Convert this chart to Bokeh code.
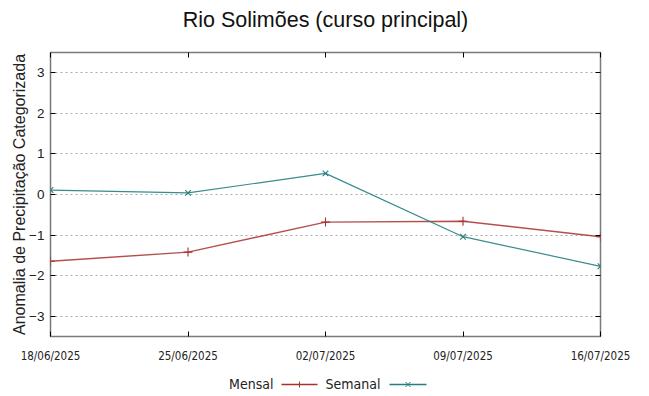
from datetime import datetime
from bokeh.plotting import figure
from bokeh.layouts import column
from bokeh.models import (LinearAxis, DatetimeAxis, FixedTicker, DatetimeTickFormatter,
                          Range1d, Label, Arrow, ColumnDataSource)
from bokeh.embed import file_html
from bokeh.resources import INLINE

# ---- data ----
dates = ["2025-06-18", "2025-06-25", "2025-07-02", "2025-07-09", "2025-07-16"]
mensal = [-1.645, -1.42, -0.68, -0.66, -1.04]
semanal = [0.11, 0.04, 0.52, -1.04, -1.77]
yticks = [-3, -2, -1, 0, 1, 2, 3]
title_text = "Rio Solimões (curso principal)"
ylabel = "Anomalia de Precipitação Categorizada"
series_names = ["Mensal", "Semanal"]

xs = [datetime.strptime(d, "%Y-%m-%d") for d in dates]
xms = [x.timestamp() * 1000 for x in xs]

RED = "#a8302f"
TEAL = "#23807f"
SANS = "'Liberation Sans', Arial, sans-serif"
NARROW = "'Liberation Sans Narrow', 'DejaVu Sans Condensed', sans-serif"
W = 649
FRAME_W = 550


def strip(height):
    f = figure(width=W, height=height, output_backend="svg", toolbar_location=None,
               x_range=Range1d(0, 1), y_range=Range1d(0, 1), min_border=0,
               min_border_left=50, min_border_right=49,
               outline_line_color=None)
    f.axis.visible = False
    f.grid.visible = False
    return f


# ---- title strip ----
tf = strip(40)
tf.add_layout(Label(x=FRAME_W / 2, y=21, x_units="screen", y_units="screen",
                    text=title_text, text_align="center", text_baseline="alphabetic",
                    text_font=SANS, text_font_size="21.5px", text_color="#111111"))

# ---- main plot ----
p = figure(width=W, height=328, x_axis_type="datetime", output_backend="svg",
           toolbar_location=None, x_range=Range1d(xms[0], xms[-1]),
           y_range=Range1d(-3.5, 3.5),
           min_border_left=50, min_border_right=49, min_border_top=12,
           min_border_bottom=32)

p.outline_line_color = "#7a7a7a"
p.outline_line_width = 1.5

src = ColumnDataSource(dict(x=xms, m=mensal, s=semanal))
p.line("x", "m", source=src, line_color=RED, line_width=1.4, line_alpha=0.85)
p.scatter("x", "m", source=src, marker="cross", size=9, line_color=RED, line_width=1.1)
p.line("x", "s", source=src, line_color=TEAL, line_width=1.2, line_alpha=0.9)
p.scatter("x", "s", source=src, marker="x", size=8, line_color=TEAL, line_width=1.1)


def style_axis(ax, labels=True, font=SANS, size="13.5px"):
    ax.axis_line_color = None
    ax.major_tick_in = 5
    ax.major_tick_out = 0
    ax.minor_tick_line_color = None
    ax.major_tick_line_color = "black"
    if labels:
        ax.major_label_text_font = font
        ax.major_label_text_font_size = size
        ax.major_label_text_color = "#222222"
    else:
        ax.major_label_text_font_size = "0px"
        ax.major_label_text_color = None
        ax.major_label_standoff = 0
        ax.axis_label_standoff = 0


xfmt = DatetimeTickFormatter(days="%d/%m/%Y", months="%d/%m/%Y", hours="%d/%m/%Y")
xt = FixedTicker(ticks=xms)
yt = FixedTicker(ticks=yticks)

xa = p.xaxis[0]
xa.ticker = xt
xa.formatter = xfmt
style_axis(xa, font=NARROW, size="11.5px")
xa.major_label_standoff = 12

ya = p.yaxis[0]
ya.ticker = yt
style_axis(ya)
ya.major_label_standoff = 6
ya.axis_label = ylabel
ya.axis_label_text_font = SANS
ya.axis_label_text_font_size = "16px"
ya.axis_label_text_font_style = "normal"
ya.axis_label_text_color = "#222222"
ya.axis_label_standoff = -2

ra = LinearAxis(ticker=yt)
style_axis(ra, labels=False)
p.add_layout(ra, "right")
ta = DatetimeAxis(ticker=xt, formatter=xfmt)
style_axis(ta, labels=False)
p.add_layout(ta, "above")

p.xgrid.grid_line_color = None
p.ygrid.ticker = yt
p.ygrid.grid_line_color = "#a8a8a8"
p.ygrid.grid_line_dash = "2 3"
p.ygrid.grid_line_width = 1

# ---- legend strip: name, then a sample of the line with its marker ----
lf = strip(28)
legend_spec = [
    (series_names[0], 223, RED, "cross", 231, 267),
    (series_names[1], 330, TEAL, "x", 339, 376),
]
LY = 12
for name, tx, col, mk, x0, x1 in legend_spec:
    lf.add_layout(Label(x=tx, y=13, x_units="screen", y_units="screen", text=name,
                        text_align="right", text_baseline="alphabetic", text_font=NARROW,
                        text_font_size="14px", text_color="#222222"))
    lf.add_layout(Arrow(end=None, x_start=x0, y_start=LY, x_end=x1, y_end=LY,
                        start_units="screen", end_units="screen",
                        line_color=col, line_width=1.3))
    cx = (x0 + x1) / 2
    if mk == "cross":
        segs = [(cx, LY - 3, cx, LY + 3)]
    else:
        segs = [(cx - 2.5, LY - 2.5, cx + 2.5, LY + 2.5), (cx - 2.5, LY + 2.5, cx + 2.5, LY - 2.5)]
    for a, b, c, d in segs:
        lf.add_layout(Arrow(end=None, x_start=a, y_start=b, x_end=c, y_end=d,
                            start_units="screen", end_units="screen",
                            line_color=col, line_width=1.0))

open("out.html", "w").write(file_html(column(tf, p, lf, spacing=0), INLINE))
